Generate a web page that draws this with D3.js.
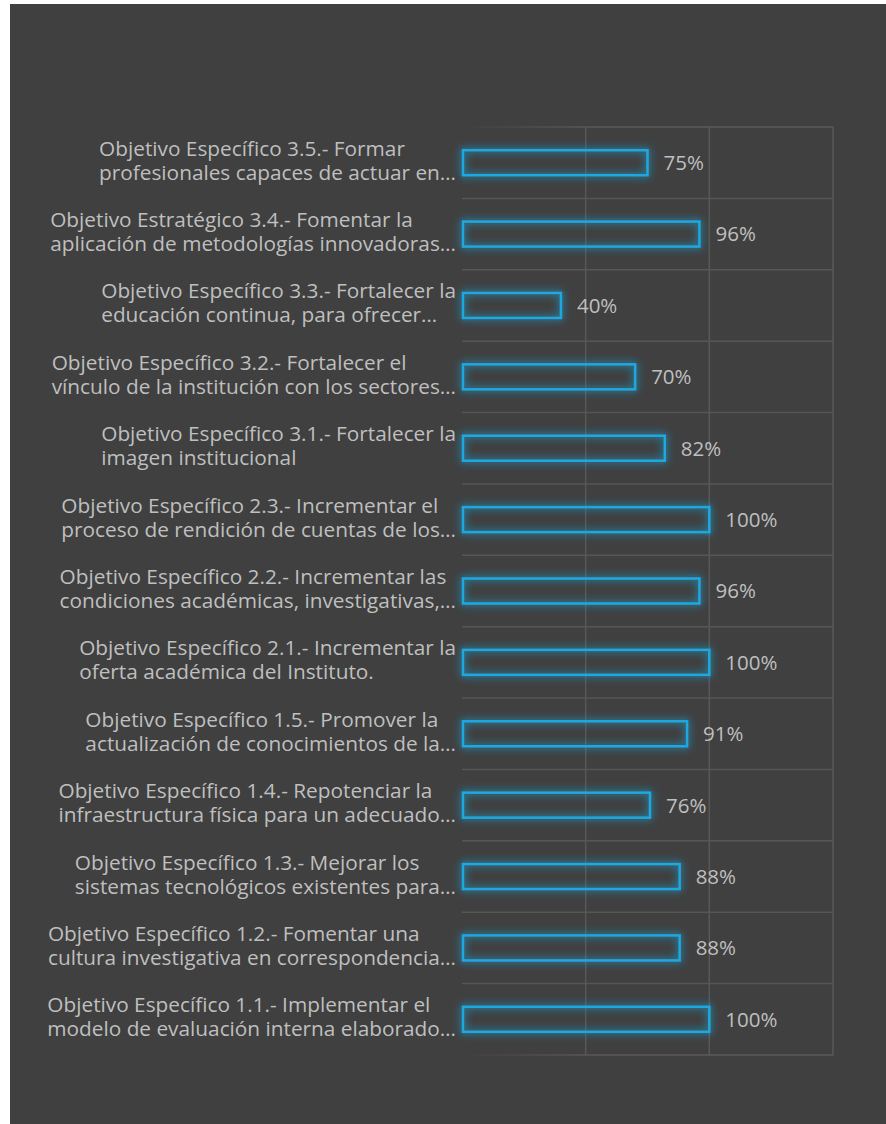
<!DOCTYPE html>
<html>
<head>
<meta charset="utf-8">
<script src="https://cdn.jsdelivr.net/npm/d3@7"></script>
<style>
	body { margin: 0; background: #ffffff; }
	text { font-family: "Open Sans", sans-serif; }
</style>
</head>
<body>
<svg id="chart" width="886" height="1124"></svg>
<script>
{
	// categories, top to bottom (two lines each, as shown in the chart)
	var line1 = [
		"Objetivo Específico 3.5.- Formar",
		"Objetivo Estratégico 3.4.- Fomentar la",
		"Objetivo Específico 3.3.- Fortalecer la",
		"Objetivo Específico 3.2.- Fortalecer el",
		"Objetivo Específico 3.1.- Fortalecer la",
		"Objetivo Específico 2.3.- Incrementar el",
		"Objetivo Específico 2.2.- Incrementar las",
		"Objetivo Específico 2.1.- Incrementar la",
		"Objetivo Específico 1.5.- Promover la",
		"Objetivo Específico 1.4.- Repotenciar la",
		"Objetivo Específico 1.3.- Mejorar los",
		"Objetivo Específico 1.2.- Fomentar una",
		"Objetivo Específico 1.1.- Implementar el"
	]
	var line2 = [
		"profesionales capaces de actuar en…",
		"aplicación de metodologías innovadoras…",
		"educación continua, para ofrecer…",
		"vínculo de la institución con los sectores…",
		"imagen institucional",
		"proceso de rendición de cuentas de los…",
		"condiciones académicas, investigativas,…",
		"oferta académica del Instituto.",
		"actualización de conocimientos de la…",
		"infraestructura física para un adecuado…",
		"sistemas tecnológicos existentes para…",
		"cultura investigativa en correspondencia…",
		"modelo de evaluación interna elaborado…"
	]
	var values = [0.75, 0.96, 0.40, 0.70, 0.82, 1.00, 0.96, 1.00, 0.91, 0.76, 0.88, 0.88, 1.00]
	var xTicks = [0, 0.5, 1, 1.5]

	var data = values.map(function(v, i) {
		return {id: i, l1: line1[i], l2: line2[i], value: v}
	})

	var svg = d3.select("#chart")
	var svgWidth = +svg.attr("width")
	var svgHeight = +svg.attr("height")

	var plot = {l: 462, r: 833, t: 127, b: 1055}

	// dark panel
	svg.append("rect")
		.attr("x", 10)
		.attr("y", 4)
		.attr("width", svgWidth - 10)
		.attr("height", svgHeight - 4)
		.attr("fill", "#404040")

	var defs = svg.append("defs")

	// cyan glow round the bars
	var glow = defs.append("filter")
		.attr("id", "glow")
		.attr("x", "-10%").attr("y", "-80%")
		.attr("width", "120%").attr("height", "260%")
	glow.append("feGaussianBlur")
		.attr("in", "SourceGraphic")
		.attr("stdDeviation", 4)
		.attr("result", "blur")
	glow.append("feComponentTransfer")
		.attr("in", "blur")
		.attr("result", "soft")
		.append("feFuncA")
		.attr("type", "linear")
		.attr("slope", 1.2)
	var merge = glow.append("feMerge")
	merge.append("feMergeNode").attr("in", "soft")
	merge.append("feMergeNode").attr("in", "SourceGraphic")

	// top / bottom border fades out to the left
	var fade = defs.append("linearGradient")
		.attr("id", "fade")
		.attr("gradientUnits", "userSpaceOnUse")
		.attr("x1", plot.l).attr("x2", 600)
		.attr("y1", 0).attr("y2", 0)
	fade.append("stop").attr("offset", "0%").attr("stop-color", "#5a5a5a").attr("stop-opacity", 0)
	fade.append("stop").attr("offset", "100%").attr("stop-color", "#5a5a5a").attr("stop-opacity", 1)

	var x = d3.scaleLinear()
		.domain([0, 1.5])
		.range([plot.l, plot.r])

	var y = d3.scaleBand()
		.domain(data.map(function(d) { return d.id }))
		.range([plot.t, plot.b])
		.paddingInner(0.65)
		.paddingOuter(0.325)

	var step = y.step()
	var rowEdges = d3.range(data.length + 1).map(function(i) { return plot.t + i * step })

	var grid = svg.append("g")

	// horizontal row lines
	grid.selectAll("line.h")
		.data(rowEdges)
		.join("line")
		.attr("class", "h")
		.attr("x1", plot.l)
		.attr("x2", plot.r)
		.attr("y1", function(d) { return d })
		.attr("y2", function(d) { return d })
		.attr("stroke", function(d, i) { return (i == 0 || i == rowEdges.length - 1) ? "url(#fade)" : "#565656" })
		.attr("stroke-width", 1.5)

	// vertical gridlines
	grid.selectAll("line.v")
		.data(xTicks.slice(1))
		.join("line")
		.attr("class", "v")
		.attr("x1", function(d) { return x(d) })
		.attr("x2", function(d) { return x(d) })
		.attr("y1", plot.t)
		.attr("y2", plot.b)
		.attr("stroke", "#585858")
		.attr("stroke-width", 1.5)

	// bars: outline only, with glow
	svg.append("g")
		.selectAll("rect")
		.data(data)
		.join("rect")
		.attr("x", x(0) + 1)
		.attr("y", function(d) { return y(d.id) })
		.attr("width", function(d) { return x(d.value) - x(0) - 1 })
		.attr("height", y.bandwidth())
		.attr("fill", "none")
		.attr("stroke", "#1ea9e1")
		.attr("stroke-width", 2.5)
		.attr("filter", "url(#glow)")

	// value labels
	svg.append("g")
		.selectAll("text")
		.data(data)
		.join("text")
		.attr("x", function(d) { return x(d.value) + 16 })
		.attr("y", function(d) { return y(d.id) + y.bandwidth() / 2 })
		.attr("dy", "0.36em")
		.attr("fill", "#bfbfbf")
		.style("font-size", "20.5px")
		.text(function(d) { return d3.format(".0%")(d.value) })

	// category labels: lines left aligned in a block that is right aligned to the axis
	var labelRight = 456
	var labels = svg.append("g")
		.selectAll("text")
		.data(data)
		.join("text")
		.attr("fill", "#bfbfbf")
		.style("font-size", "20.8px")

	labels.each(function(d) {
		var t = d3.select(this)
		var cy = y(d.id) + y.bandwidth() / 2
		var s1 = t.append("tspan").attr("y", cy - 7).text(d.l1)
		var s2 = t.append("tspan").attr("y", cy + 17).text(d.l2)
		var w = Math.max(s1.node().getComputedTextLength(), s2.node().getComputedTextLength())
		s1.attr("x", labelRight - w)
		s2.attr("x", labelRight - w)
	})
}
</script>
</body>
</html>
